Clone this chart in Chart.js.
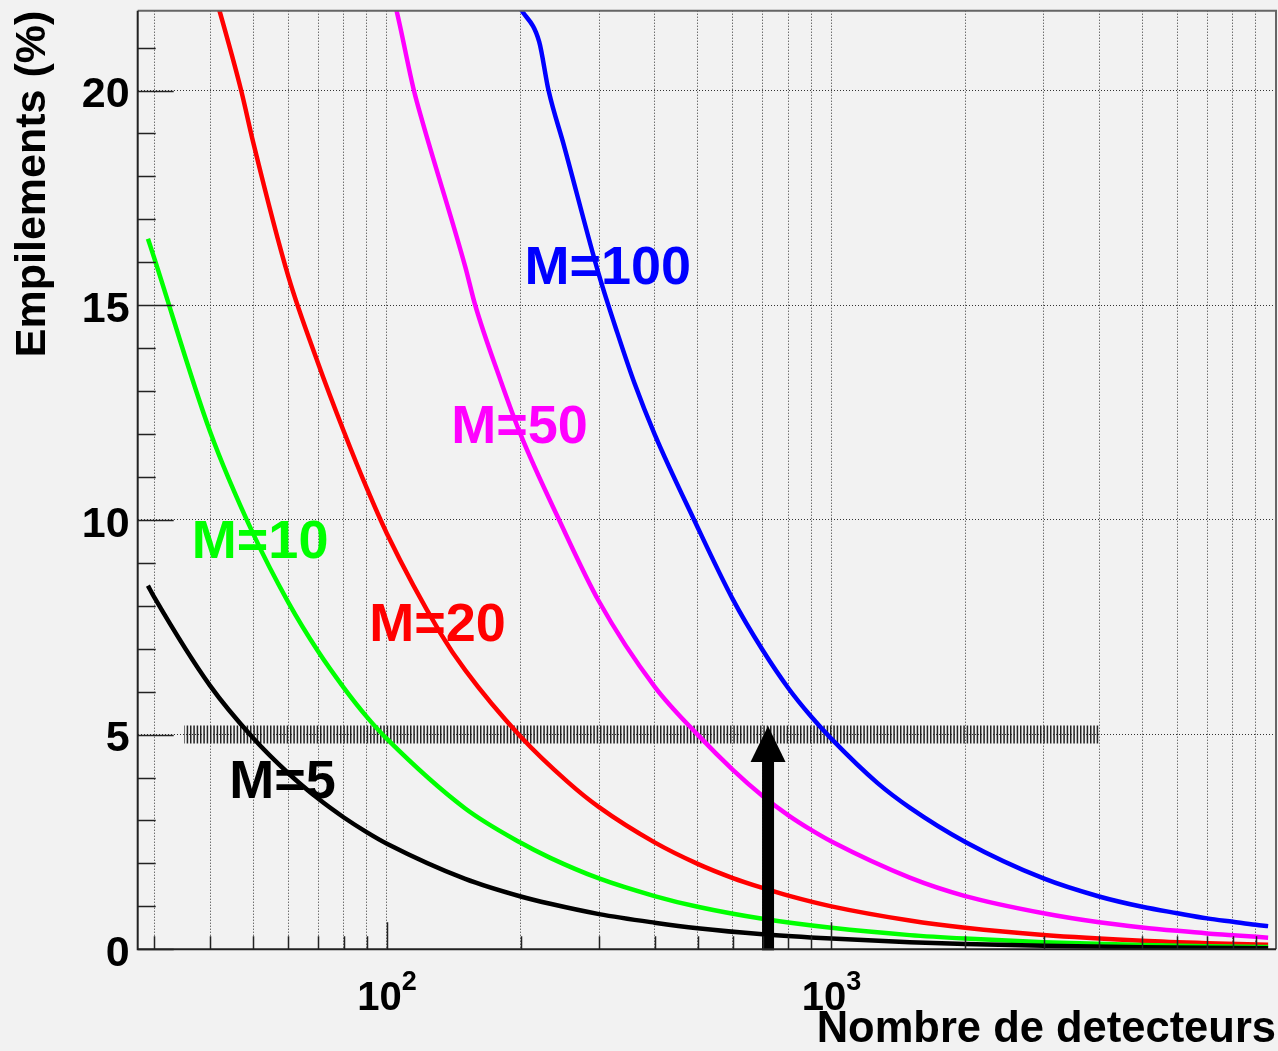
<!DOCTYPE html>
<html>
<head>
<meta charset="utf-8">
<title>Empilements</title>
<script src="https://cdn.jsdelivr.net/npm/chart.js@4.4.1/dist/chart.umd.min.js"></script>
<style>
  html, body { margin: 0; padding: 0; background: #f2f2f2; }
  #wrap { width: 1278px; height: 1051px; }
</style>
</head>
<body>
<div id="wrap"><canvas id="myChart" width="1278" height="1051"></canvas></div>
<script>
const FONT = "'Liberation Sans', Arial, Helvetica, sans-serif";

// pile-up rate (%) against number of detectors, one curve per multiplicity M
const nM5 = [29, 30, 40, 50, 60, 70, 80, 90, 100, 150, 200, 233, 300, 400, 500, 700, 1000, 1500, 2000, 3000, 5000, 7000, 9600];
const vM5 = [8.47, 8.19, 6.14, 4.92, 4.10, 3.51, 3.07, 2.73, 2.46, 1.64, 1.23, 1.06, 0.82, 0.62, 0.49, 0.35, 0.25, 0.167, 0.125, 0.083, 0.05, 0.036, 0.026];

const nM10 = [29, 30, 40, 50, 60, 70, 80, 90, 100, 150, 200, 233, 300, 400, 500, 700, 1000, 1500, 2000, 3000, 5000, 7000, 9600];
const vM10 = [16.55, 16.08, 12.06, 9.68, 8.08, 6.94, 6.09, 5.42, 4.90, 3.28, 2.48, 2.13, 1.65, 1.24, 0.99, 0.71, 0.50, 0.33, 0.25, 0.167, 0.10, 0.071, 0.052];

const nM20 = [40, 42, 47, 50, 60, 70, 80, 90, 100, 132, 150, 200, 255, 300, 400, 500, 600, 700, 800, 1000, 1500, 2000, 3000, 5000, 7000, 9600];
const vM20 = [22.6, 21.86, 20.0, 18.8, 15.67, 13.65, 12.06, 10.75, 9.68, 7.36, 6.5, 4.95, 3.90, 3.31, 2.49, 1.99, 1.66, 1.43, 1.25, 1.0, 0.67, 0.50, 0.333, 0.20, 0.143, 0.104];

const nM50 = [100, 105, 115, 120, 150, 158, 180, 200, 244, 300, 400, 500, 600, 700, 800, 900, 1000, 1500, 2000, 3000, 4000, 5000, 6000, 7000, 8000, 9600];
const vM50 = [22.7, 21.88, 20.0, 19.3, 15.9, 15.0, 13.26, 11.98, 10.0, 8.10, 6.12, 5.0, 4.18, 3.57, 3.12, 2.78, 2.51, 1.67, 1.24, 0.84, 0.63, 0.51, 0.43, 0.37, 0.33, 0.27];

const nM100 = [200, 220, 231, 250, 300, 330, 360, 400, 491, 600, 700, 800, 900, 1000, 1270, 1500, 2000, 3000, 4000, 5000, 6000, 7000, 8000, 9000, 9600];
const vM100 = [21.9, 21.14, 20.0, 18.73, 15.7, 14.35, 13.2, 12.0, 10.0, 8.15, 6.97, 6.08, 5.42, 4.9, 3.87, 3.3, 2.5, 1.65, 1.23, 0.99, 0.84, 0.72, 0.64, 0.57, 0.54];

// 5 % limit band and the arrow at the chosen number of detectors
const limitN = [35, 4000];
const limitVal = [5, 5];
const arrowN = 720;
const arrowVal = [0, 5.2];

// axes
const xMin = 27.5, xMax = 10000;
const yMin = 0, yMax = 21.86;
const xGridN = [30, 40, 50, 60, 70, 80, 90, 100, 200, 300, 400, 500, 600, 700, 800, 900,
                1000, 2000, 3000, 4000, 5000, 6000, 7000, 8000, 9000];
const xMajorN = [100, 1000];
const xMajorExp = ['2', '3'];
const yMajor = [0, 5, 10, 15, 20];
const yTicks = [0, 1, 2, 3, 4, 5, 6, 7, 8, 9, 10, 11, 12, 13, 14, 15, 16, 17, 18, 19, 20, 21];

const curves = [
  { label: 'M=5',   n: nM5,   v: vM5,   color: '#000000' },
  { label: 'M=10',  n: nM10,  v: vM10,  color: '#00ff00' },
  { label: 'M=20',  n: nM20,  v: vM20,  color: '#ff0000' },
  { label: 'M=50',  n: nM50,  v: vM50,  color: '#ff00ff' },
  { label: 'M=100', n: nM100, v: vM100, color: '#0000ff' }
];

// where each curve name sits (N, value at the text baseline)
const labelAt = [[44.2, 3.52], [36.4, 9.11], [91.2, 7.17], [139.5, 11.79], [203.9, 15.5]];

function hatch() {
  const c = document.createElement('canvas');
  c.width = 10; c.height = 2;
  const g = c.getContext('2d');
  g.fillStyle = '#222';
  [0, 3.33, 6.67].forEach(x => g.fillRect(x, 0, 1.5, 2));
  return g.createPattern(c, 'repeat');
}

const datasets = curves.map(c => ({
  label: c.label,
  data: c.n.map((n, i) => ({ x: n, y: c.v[i] })),
  borderColor: c.color,
  borderWidth: 4.5,
  pointRadius: 0,
  cubicInterpolationMode: 'monotone',
  clip: 0,
  order: 1
}));
datasets.push({
  label: 'limite',
  data: limitN.map((n, i) => ({ x: n, y: limitVal[i] })),
  borderColor: hatch(),
  borderWidth: 18,
  borderCapStyle: 'butt',
  pointRadius: 0,
  clip: 0,
  order: 2
});

const decorations = {
  id: 'decorations',
  beforeDraw(chart) {
    const ctx = chart.ctx;
    ctx.save();
    ctx.fillStyle = '#f2f2f2';
    ctx.fillRect(0, 0, chart.width, chart.height);
    ctx.restore();
  },
  afterDatasetsDraw(chart) {
    const { ctx, scales: { x, y } } = chart;
    ctx.save();
    // arrow
    const px = x.getPixelForValue(arrowN);
    const yBase = y.getPixelForValue(arrowVal[0]) + 1;
    const yTip = y.getPixelForValue(arrowVal[1]);
    const head = 36, half = 17.5, shaft = 6;
    ctx.fillStyle = '#000';
    ctx.fillRect(px - shaft, yTip + head - 1, 2 * shaft, yBase - (yTip + head - 1));
    ctx.beginPath();
    ctx.moveTo(px, yTip);
    ctx.lineTo(px + half, yTip + head);
    ctx.lineTo(px - half, yTip + head);
    ctx.closePath();
    ctx.fill();
    // curve names
    ctx.font = 'bold 54px ' + FONT;
    ctx.textAlign = 'left';
    ctx.textBaseline = 'alphabetic';
    curves.forEach((c, i) => {
      ctx.fillStyle = c.color;
      ctx.fillText(c.label, x.getPixelForValue(labelAt[i][0]), y.getPixelForValue(labelAt[i][1]));
    });
    ctx.restore();
  },
  afterDraw(chart) {
    const { ctx, chartArea: a, scales: { x, y } } = chart;
    ctx.save();
    // tick marks, drawn inwards
    ctx.strokeStyle = '#222';
    ctx.lineWidth = 1.5;
    ctx.beginPath();
    xGridN.forEach(n => {
      const px = Math.round(x.getPixelForValue(n)) + 0.5;
      const len = xMajorN.includes(n) ? 27 : 13;
      ctx.moveTo(px, a.bottom);
      ctx.lineTo(px, a.bottom - len);
    });
    yTicks.forEach(v => {
      const py = Math.round(y.getPixelForValue(v)) + 0.5;
      const len = yMajor.includes(v) ? 36 : 18;
      ctx.moveTo(a.left, py);
      ctx.lineTo(a.left + len, py);
    });
    ctx.stroke();
    // frame
    ctx.lineWidth = 2;
    ctx.strokeStyle = '#666';
    ctx.beginPath();
    ctx.moveTo(a.left, a.top);
    ctx.lineTo(a.right, a.top);
    ctx.lineTo(a.right, a.bottom);
    ctx.stroke();
    ctx.strokeStyle = '#222';
    ctx.beginPath();
    ctx.moveTo(a.left, a.top);
    ctx.lineTo(a.left, a.bottom);
    ctx.lineTo(a.right, a.bottom);
    ctx.stroke();
    // decade labels 10^n
    ctx.fillStyle = '#000';
    ctx.textAlign = 'left';
    ctx.textBaseline = 'alphabetic';
    xMajorN.forEach((n, i) => {
      const px = x.getPixelForValue(n);
      ctx.font = 'bold 40px ' + FONT;
      const wBase = ctx.measureText('10').width;
      ctx.font = 'bold 27px ' + FONT;
      const wExp = ctx.measureText(xMajorExp[i]).width;
      const left = px - (wBase + wExp) / 2;
      ctx.font = 'bold 40px ' + FONT;
      ctx.fillText('10', left, a.bottom + 61);
      ctx.font = 'bold 27px ' + FONT;
      ctx.fillText(xMajorExp[i], left + wBase, a.bottom + 41);
    });
    ctx.restore();
  }
};

const config = {
  type: 'line',
  data: { datasets: datasets },
  options: {
    responsive: false,
    animation: false,
    events: [],
    layout: { padding: { top: 10.7, right: 2, bottom: 0, left: 0 } },
    plugins: {
      legend: { display: false },
      tooltip: { enabled: false }
    },
    scales: {
      x: {
        type: 'logarithmic',
        min: xMin,
        max: xMax,
        afterBuildTicks: s => { s.ticks = xGridN.map(v => ({ value: v })); },
        afterFit: s => { s.height = 101.7; s.paddingLeft = 0; s.paddingRight = 0; },
        ticks: { display: false },
        grid: { color: '#333', lineWidth: 1, drawTicks: false },
        border: { display: false, dash: [1, 2] },
        title: {
          display: true,
          text: 'Nombre de detecteurs',
          align: 'end',
          color: '#000',
          font: { family: FONT, size: 43.5, weight: 'bold', lineHeight: 1 },
          padding: { top: 0, bottom: -1 }
        }
      },
      y: {
        min: yMin,
        max: yMax,
        afterBuildTicks: s => { s.ticks = yMajor.map(v => ({ value: v })); },
        afterFit: s => { s.width = 137.7; s.paddingTop = 0; s.paddingBottom = 0; },
        ticks: {
          color: '#000',
          font: { family: FONT, size: 43, weight: 'bold' },
          padding: 8,
          labelOffset: 5,
          autoSkip: false
        },
        grid: { color: '#333', lineWidth: 1, drawTicks: false },
        border: { display: false, dash: [1, 2] },
        title: {
          display: true,
          text: 'Empilements (%)',
          align: 'end',
          color: '#000',
          font: { family: FONT, size: 43, weight: 'bold', lineHeight: 1 },
          padding: { top: 12, bottom: 0 }
        }
      }
    }
  },
  plugins: [decorations]
};

const myChart = new Chart(document.getElementById('myChart'), config);
</script>
</body>
</html>
